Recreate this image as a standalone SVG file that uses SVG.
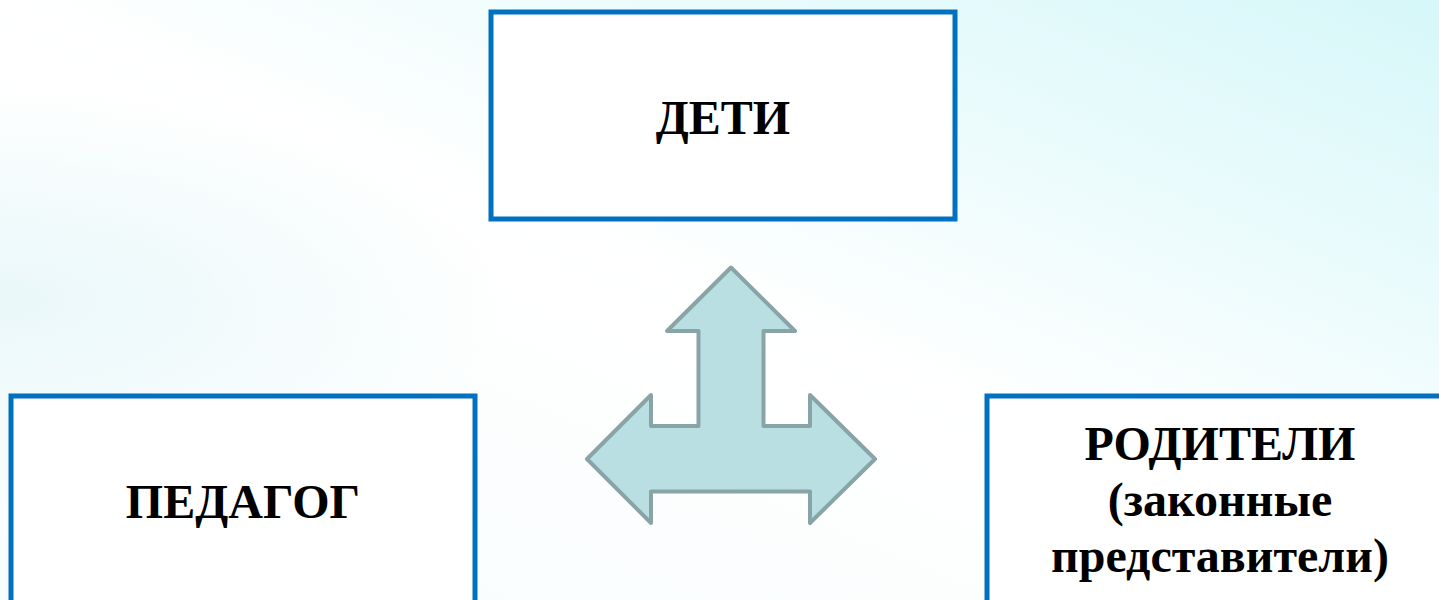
<svg xmlns="http://www.w3.org/2000/svg" width="1439" height="600" viewBox="0 0 1439 600">
  <defs>
    <linearGradient id="bg" x1="1" y1="0" x2="0" y2="1">
      <stop offset="0" stop-color="#d6f7f9"/>
      <stop offset="0.5" stop-color="#ffffff"/>
      <stop offset="1" stop-color="#f7fcfd"/>
    </linearGradient>
    <radialGradient id="bg2" cx="0" cy="0.5" r="0.35">
      <stop offset="0" stop-color="#eaf8fa" stop-opacity="1"/>
      <stop offset="1" stop-color="#eaf8fa" stop-opacity="0"/>
    </radialGradient>
  </defs>
  <style>
    .box { fill: #ffffff; stroke: #0070c0; stroke-width: 5; }
    .lbl { font-weight: bold; font-size: 48px; fill: #000000; text-anchor: middle; }
    .arrow { fill: #b9dfe2; stroke: #88a4a7; stroke-width: 4; stroke-linejoin: round; }
  </style>
  <rect x="0" y="0" width="1439" height="600" fill="url(#bg)"/>
  <rect x="0" y="0" width="1439" height="600" fill="url(#bg2)"/>

  <g id="connectors">
    <path class="arrow" d="M731,267.5 L795,331 L763.5,331 L763.5,426 L810,426 L810,395 L875,459 L810,523 L810,491.5 L651,491.5 L651,523 L587,459 L651,395 L651,426 L698.5,426 L698.5,331 L667,331 Z"/>
  </g>

  <g id="node-deti">
    <rect class="box" x="491" y="12" width="464" height="207"/>
    <text class="lbl" font-family="'Liberation Serif', 'DejaVu Serif', serif" x="723" y="134">ДЕТИ</text>
  </g>

  <g id="node-pedagog">
    <rect class="box" x="11" y="396" width="464" height="212"/>
    <text class="lbl" font-family="'Liberation Serif', 'DejaVu Serif', serif" x="243" y="518">ПЕДАГОГ</text>
  </g>

  <g id="node-roditeli">
    <rect class="box" x="987" y="396" width="464" height="212"/>
    <text class="lbl" font-family="'Liberation Serif', 'DejaVu Serif', serif" x="1220" y="460">РОДИТЕЛИ</text>
    <text class="lbl" font-family="'Liberation Serif', 'DejaVu Serif', serif" x="1220" y="516">(законные</text>
    <text class="lbl" font-family="'Liberation Serif', 'DejaVu Serif', serif" x="1220" y="572">представители)</text>
  </g>
</svg>
